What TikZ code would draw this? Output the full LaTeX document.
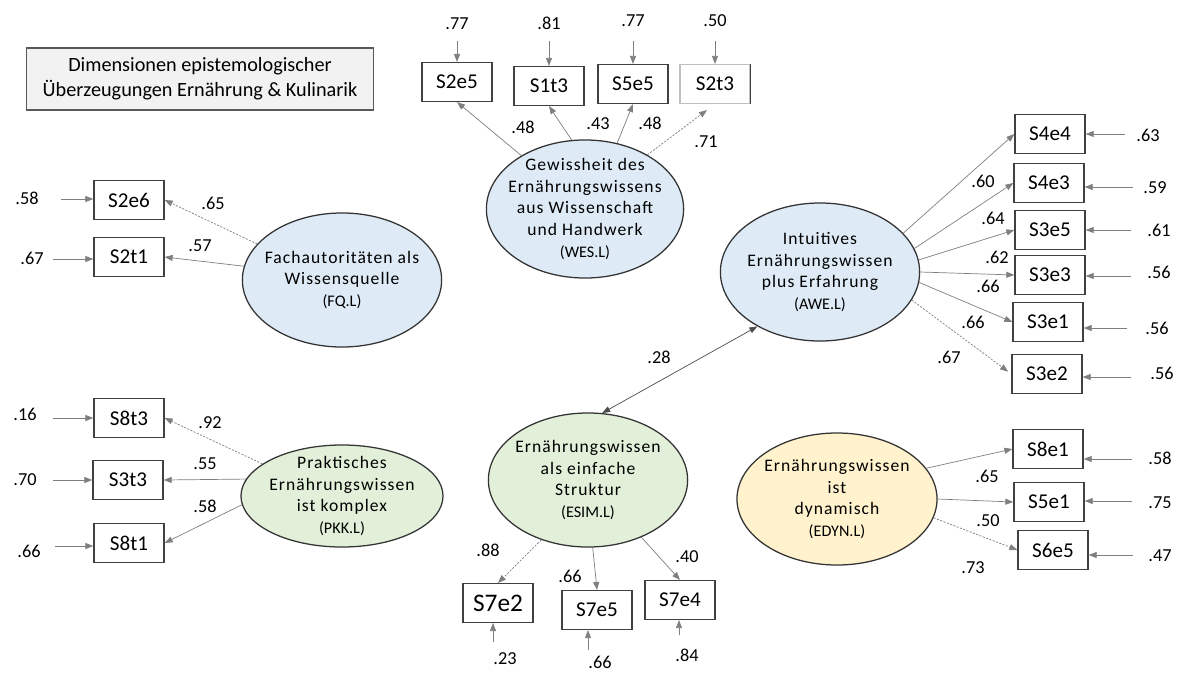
\documentclass[tikz,border=0pt]{standalone}
\usepackage{fontspec}
\setmainfont{Carlito}
\newfontfamily\spcfont[LetterSpace=6]{Carlito}
\usetikzlibrary{arrows.meta,shapes.geometric}
\definecolor{lvblue}{HTML}{DEEBF7}
\definecolor{lvgreen}{HTML}{E2F0D9}
\definecolor{lvyellow}{HTML}{FFF2CC}
\definecolor{edgegray}{HTML}{7F7F7F}
\definecolor{framegray}{HTML}{404040}
\newcommand{\lvcode}[1]{{\normalfont\fontsize{11.5}{13}\selectfont #1}}
\tikzset{
  box/.style={draw=framegray, line width=0.9pt, rectangle, minimum width=1.75cm, minimum height=0.97cm, inner sep=0pt, font=\fontsize{15}{18}\selectfont, fill=white},
  lat/.style={draw=black!80, line width=0.9pt, ellipse, inner sep=-5mm, align=center, font=\spcfont\fontsize{12.5}{15.5}\selectfont},
  num/.style={font=\fontsize{13}{15}\selectfont, inner sep=1pt},
  arr/.style={-{Triangle[length=2mm,width=1.5mm]}, edgegray, line width=0.5pt},
  darr/.style={arr, dash pattern=on 1.5pt off 1pt},
  err/.style={arr},
  cov/.style={{Triangle[length=2mm,width=1.5mm]}-{Triangle[length=2mm,width=1.5mm]}, black!70, line width=0.5pt},
}
\begin{document}
\begin{tikzpicture}[x=0.025cm,y=-0.025cm]
\useasboundingbox (0,0) rectangle (1181,672);
\node[draw=black!65, fill=black!5, line width=0.9pt, minimum width=8.68cm, minimum height=1.55cm, align=center, font=\fontsize{14.4}{17.8}\selectfont] (title) at (200,79) {Dimensionen epistemologischer\\Überzeugungen Ernährung \& Kulinarik};
% Gewissheit (WES)
\node[lat, fill=lvblue, minimum width=4.93cm, minimum height=3.45cm] (wes) at (585,209) {Gewissheit des\\Ernährungswissens\\aus Wissenschaft\\und Handwerk\\\lvcode{(WES.L)}};
\node[box] (s2e5) at (457,82) {S2e5};
\node[box] (s1t3) at (549,86) {S1t3};
\node[box] (s5e5) at (633,84) {S5e5};
\node[box, draw=black!25] (s2t3) at (715,84) {S2t3};
\draw[framegray, line width=0.9pt] (s2t3.north east) -- (s2t3.south east);
\draw[arr] (wes.140) -- (s2e5.south);
\draw[arr] (wes.101) -- (s1t3.south);
\draw[arr] (wes.64) -- (s5e5.south);
\draw[darr, shorten >=2.5mm] (wes.41) -- (s2t3.south);
\node[num] (l2e5) at (523,127) {.48};
\node[num] (l1t3) at (598,124) {.43};
\node[num] (l5e5) at (650,123) {.48};
\node[num] (l2t3) at (706,142) {.71};
\node[num] (e2e5) at (457,24) {.77}; \coordinate (t2e5) at (457,41);
\node[num] (e1t3) at (549,23) {.81}; \coordinate (t1t3) at (549,41);
\node[num] (e5e5) at (633,21) {.77}; \coordinate (t5e5) at (633,41);
\node[num] (e2t3) at (715,21) {.50}; \coordinate (t2t3) at (715,41);
\draw[err] (t2e5) -- (s2e5.north);
\draw[err] (t1t3) -- (s1t3.north);
\draw[err] (t5e5) -- (s5e5.north);
\draw[err] (t2t3) -- (s2t3.north);
% Fachautoritaeten (FQ)
\node[lat, fill=lvblue, minimum width=4.98cm, minimum height=3.35cm] (fq) at (342,280) {Fachautoritäten als\\Wissensquelle\\\lvcode{(FQ.L)}};
\node[box] (s2e6) at (129,200) {S2e6};
\node[box] (s2t1) at (129,257) {S2t1};
\draw[darr] (fq.157) -- (s2e6.east);
\draw[arr] (fq.172) -- (s2t1.east);
\node[num] (l2e6) at (213,203) {.65};
\node[num] (l2t1) at (200,246) {.57};
\node[num] (e2e6) at (27,198) {.58}; \coordinate (t2e6) at (61,199);
\node[num] (e2t1) at (32,258) {.67}; \coordinate (t2t1) at (53,259);
\draw[err] (t2e6) -- (t2e6 -| s2e6.west);
\draw[err] (t2t1) -- (t2t1 -| s2t1.west);
% Praktisches Wissen (PKK)
\node[lat, fill=lvgreen, minimum width=5.05cm, minimum height=2.55cm] (pkk) at (342,496) {Praktisches\\Ernährungswissen\\ist komplex\\\lvcode{(PKK.L)}};
\node[box] (s8t3) at (129,418) {S8t3};
\node[box] (s3t3) at (128,480) {S3t3};
\node[box] (s8t1) at (129,543) {S8t1};
\draw[darr] (pkk.158) -- (s8t3.east);
\draw[arr] (pkk.170) -- (s3t3.east);
\draw[arr] (pkk.185) -- (s8t1.east);
\node[num] (l8t3) at (210,423) {.92};
\node[num] (l3t3) at (205,464) {.55};
\node[num] (l8t1) at (205,506) {.58};
\node[num] (e8t3) at (25,414) {.16}; \coordinate (t8t3) at (53,418);
\node[num] (e3t3) at (25,480) {.70}; \coordinate (t3t3) at (53,480);
\node[num] (e8t1) at (29,551) {.66}; \coordinate (t8t1) at (55,546);
\draw[err] (t8t3) -- (t8t3 -| s8t3.west);
\draw[err] (t3t3) -- (t3t3 -| s3t3.west);
\draw[err] (t8t1) -- (t8t1 -| s8t1.west);
% Intuitives Wissen (AWE)
\node[lat, fill=lvblue, minimum width=4.98cm, minimum height=3.45cm] (awe) at (820,272) {Intuitives\\Ernährungswissen\\plus Erfahrung\\\lvcode{(AWE.L)}};
\node[box] (s4e4) at (1050,134) {S4e4};
\node[box] (s4e3) at (1049,183) {S4e3};
\node[box] (s3e5) at (1050,230) {S3e5};
\node[box] (s3e3) at (1050,275) {S3e3};
\node[box] (s3e1) at (1048,322) {S3e1};
\node[box] (s3e2) at (1047,374) {S3e2};
\draw[arr] (awe.25) -- (s4e4.west);
\draw[arr] (awe.14) -- (s4e3.west);
\draw[arr] (awe.7) -- (s3e5.west);
\draw[arr] (awe.0) -- (s3e3.west);
\draw[arr] (awe.354) -- (s3e1.west);
\draw[darr, shorten >=1mm] (awe.343) -- (s3e2.west);
\node[num] (l4e4) at (983,181) {.60};
\node[num] (l4e3) at (993,218) {.64};
\node[num] (l3e5) at (997,257) {.62};
\node[num] (l3e3) at (988,286) {.66};
\node[num] (l3e1) at (973,322) {.66};
\node[num] (l3e2) at (949,357) {.67};
\node[num] (e4e4) at (1148,135) {.63}; \coordinate (t4e4) at (1125,134);
\node[num] (e4e3) at (1155,188) {.59}; \coordinate (t4e3) at (1133,187);
\node[num] (e3e5) at (1159,230) {.61}; \coordinate (t3e5) at (1131,230);
\node[num] (e3e3) at (1159,272) {.56}; \coordinate (t3e3) at (1131,276);
\node[num] (e3e1) at (1157,328) {.56}; \coordinate (t3e1) at (1127,328);
\node[num] (e3e2) at (1162,373) {.56}; \coordinate (t3e2) at (1131,377);
\draw[err] (t4e4) -- (t4e4 -| s4e4.east);
\draw[err] (t4e3) -- (t4e3 -| s4e3.east);
\draw[err] (t3e5) -- (t3e5 -| s3e5.east);
\draw[err] (t3e3) -- (t3e3 -| s3e3.east);
\draw[err] (t3e1) -- (t3e1 -| s3e1.east);
\draw[err] (t3e2) -- (t3e2 -| s3e2.east);
% einfache Struktur (ESIM)
\node[lat, fill=lvgreen, minimum width=4.98cm, minimum height=3.35cm] (esim) at (588,480) {Ernährungswissen\\als einfache\\Struktur\\\lvcode{(ESIM.L)}};
\node[box, font=\fontsize{18}{20}\selectfont] (s7e2) at (498,603) {S7e2};
\node[box] (s7e5) at (597,610) {S7e5};
\node[box] (s7e4) at (680,600) {S7e4};
\draw[darr] (esim.232) -- (s7e2.north);
\draw[arr] (esim.274) -- (s7e5.north);
\draw[arr] (esim.313) -- (s7e4.north);
\node[num] (l7e2) at (488,550) {.88};
\node[num] (l7e5) at (570,576) {.66};
\node[num] (l7e4) at (687,557) {.40};
\node[num] (e7e2) at (505,659) {.23}; \coordinate (t7e2) at (493,642);
\node[num] (e7e5) at (600,662) {.66}; \coordinate (t7e5) at (588,650);
\node[num] (e7e4) at (687,655) {.84}; \coordinate (t7e4) at (679,635);
\draw[err] (t7e2) -- (t7e2 |- s7e2.south);
\draw[err] (t7e5) -- (t7e5 |- s7e5.south);
\draw[err] (t7e4) -- (t7e4 |- s7e4.south);
% dynamisch (EDYN)
\node[lat, fill=lvyellow, minimum width=5cm, minimum height=3.3cm] (edyn) at (837,499) {Ernährungswissen\\ist\\dynamisch\\\lvcode{(EDYN.L)}};
\node[box] (s8e1) at (1048,449) {S8e1};
\node[box] (s5e1) at (1049,502) {S5e1};
\node[box] (s6e5) at (1053,550) {S6e5};
\draw[arr] (edyn.19) -- (s8e1.west);
\draw[arr] (edyn.0) -- (s5e1.west);
\draw[darr] (edyn.349) -- (s6e5.west);
\node[num] (l8e1) at (987,476) {.65};
\node[num] (l5e1) at (988,521) {.50};
\node[num] (l6e5) at (973,568) {.73};
\node[num] (e8e1) at (1160,458) {.58}; \coordinate (t8e1) at (1132,459);
\node[num] (e5e1) at (1160,503) {.75}; \coordinate (t5e1) at (1132,501);
\node[num] (e6e5) at (1160,556) {.47}; \coordinate (t6e5) at (1133,555);
\draw[err] (t8e1) -- (t8e1 -| s8e1.east);
\draw[err] (t5e1) -- (t5e1 -| s5e1.east);
\draw[err] (t6e5) -- (t6e5 -| s6e5.east);
% Korrelation
\draw[cov] (esim.78) -- (awe.221);
\node[num] (lcov) at (659,357) {.28};
\end{tikzpicture}
\end{document}
